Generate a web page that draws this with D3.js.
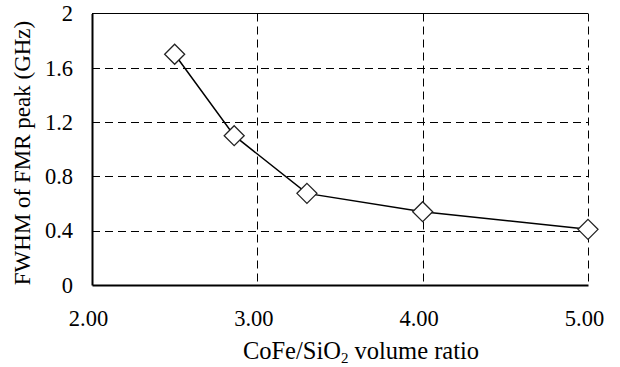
<!DOCTYPE html>
<html>
<head>
<meta charset="utf-8">
<script src="https://cdn.jsdelivr.net/npm/d3@7"></script>
<style>
  body { margin: 0; background: #fff; }
  svg text { font-family: "Liberation Serif", "Times New Roman", serif; fill: #000; }
</style>
</head>
<body>
<div id="chart"></div>
<script>
const width = 620;
const height = 367;
const margin = { top: 13.5, right: 32, bottom: 82, left: 92 };

// data
const ratio = [2.50, 2.86, 3.30, 4.00, 5.00];
const fwhm = [1.70, 1.10, 0.675, 0.54, 0.41];
const xTicks = [2, 3, 4, 5];
const yTicks = [0, 0.4, 0.8, 1.2, 1.6, 2];

const svg = d3.select("#chart")
  .append("svg")
  .attr("width", width)
  .attr("height", height);

const x = d3.scaleLinear()
  .domain([2, 5])
  .range([margin.left, width - margin.right]);

const y = d3.scaleLinear()
  .domain([0, 2])
  .range([height - margin.bottom, margin.top]);

// dashed grid
svg.append("g")
  .selectAll("line")
  .data(yTicks.filter(d => d > 0 && d < 2))
  .join("line")
  .attr("x1", margin.left)
  .attr("x2", width - margin.right)
  .attr("y1", d => Math.round(y(d)) + 0.5)
  .attr("y2", d => Math.round(y(d)) + 0.5)
  .attr("stroke", "#000")
  .attr("stroke-dasharray", "8,5");

svg.append("g")
  .selectAll("line")
  .data(xTicks.filter(d => d > 2))
  .join("line")
  .attr("x1", d => Math.round(x(d)) + 0.5)
  .attr("x2", d => Math.round(x(d)) + 0.5)
  .attr("y1", margin.top)
  .attr("y2", height - margin.bottom)
  .attr("stroke", "#000")
  .attr("stroke-dasharray", "8,5");

// top border
svg.append("line")
  .attr("x1", margin.left).attr("x2", width - margin.right)
  .attr("y1", margin.top).attr("y2", margin.top)
  .attr("stroke", "#000").attr("stroke-width", 1.2);

// axes
const xAxis = svg.append("g")
  .attr("transform", `translate(0,${height - margin.bottom})`)
  .call(d3.axisBottom(x).tickValues(xTicks).tickSize(0).tickPadding(25).tickFormat(d3.format(".2f")));

const yAxis = svg.append("g")
  .attr("transform", `translate(${margin.left},0)`)
  .call(d3.axisLeft(y).tickValues(yTicks).tickSize(0).tickPadding(19).tickFormat(d => d3.format("")(+d.toFixed(1))));

[xAxis, yAxis].forEach(g => {
  g.attr("font-family", null).attr("font-size", null);
  g.select(".domain").attr("stroke", "#000").attr("stroke-width", 2);
  g.selectAll("text")
    .style("font-size", "22.5px")
    .attr("fill", "#000");
});
xAxis.selectAll("text").attr("dx", "-4px");

// series
svg.append("path")
  .datum(ratio.map((r, i) => [r, fwhm[i]]))
  .attr("fill", "none")
  .attr("stroke", "#000")
  .attr("stroke-width", 1.5)
  .attr("d", d3.line().x(d => x(d[0])).y(d => y(d[1])));

svg.append("g")
  .selectAll("path")
  .data(ratio.map((r, i) => [r, fwhm[i]]))
  .join("path")
  .attr("transform", d => `translate(${x(d[0])},${y(d[1])})`)
  .attr("d", "M0,-10L10,0L0,10L-10,0Z")
  .attr("fill", "#fff")
  .attr("stroke", "#222")
  .attr("stroke-width", 1.3);

// axis titles
const xTitle = svg.append("text")
  .attr("x", 361)
  .attr("y", 359)
  .attr("text-anchor", "middle")
  .style("font-size", "24.5px");
xTitle.append("tspan").text("CoFe/SiO");
xTitle.append("tspan").style("font-size", "15px").attr("dy", "4").text("2");
xTitle.append("tspan").attr("dy", "-4").text(" volume ratio");

svg.append("text")
  .attr("transform", "rotate(-90)")
  .attr("x", -153)
  .attr("y", 30)
  .attr("text-anchor", "middle")
  .style("font-size", "23px")
  .text("FWHM of FMR peak (GHz)");
</script>
</body>
</html>
